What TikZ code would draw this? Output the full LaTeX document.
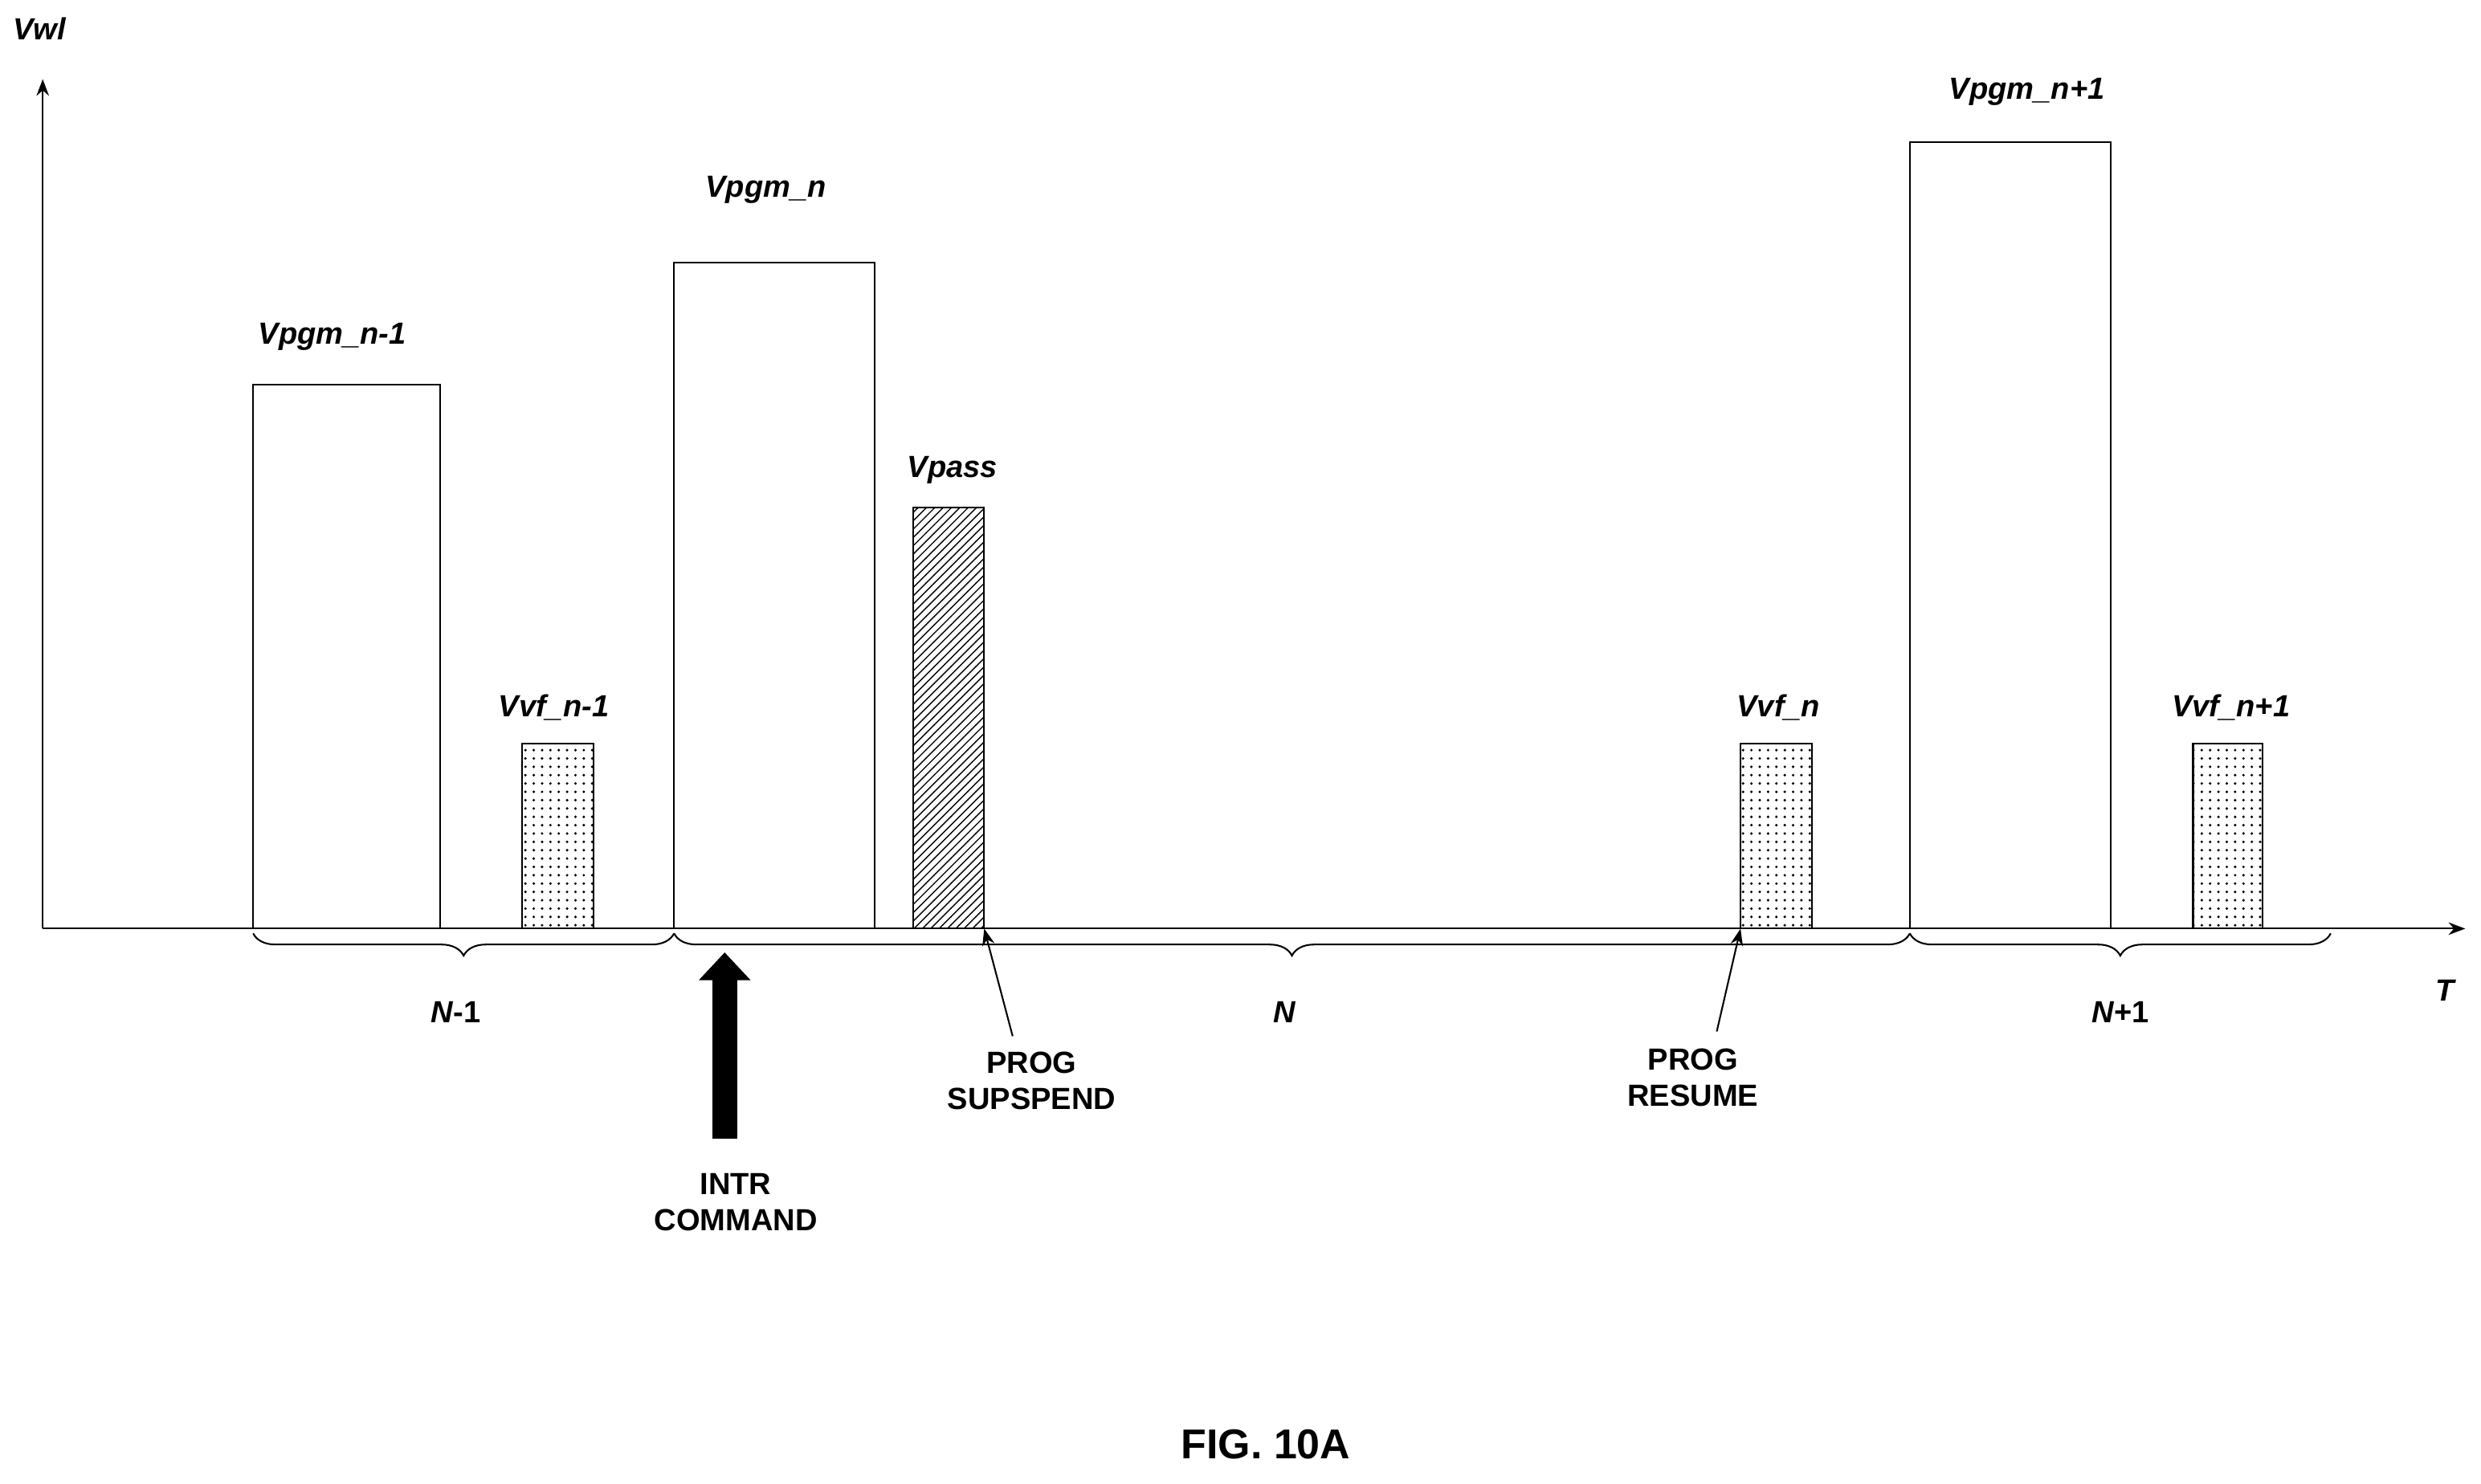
\documentclass[tikz,border=0pt]{standalone}
\usepackage{fontspec}
\setmainfont{Liberation Sans}
\usetikzlibrary{decorations.pathreplacing,patterns,arrows.meta}
\begin{document}
\begin{tikzpicture}[x=0.02cm,y=-0.02cm,
  lbl/.style={font=\fontsize{11}{13}\selectfont\bfseries\itshape},
  captxt/.style={font=\fontsize{11}{13}\selectfont\bfseries,align=center},
  bar/.style={draw,line width=0.6pt,fill=white},
  dotbar/.style={draw,line width=0.6pt,pattern=dots},
  hatchbar/.style={draw,line width=0.6pt,pattern=north east lines},
  br/.style={decorate,decoration={brace,mirror,amplitude=8pt},line width=0.6pt},
  thinarr/.style={-{Stealth[length=6pt]},line width=0.6pt}]
\useasboundingbox (0,0) rectangle (1568,938);
\coordinate (o) at (27,587);
\coordinate (ytop) at (27,50);
\coordinate (xend) at (1558,587);
\draw[-{Stealth[length=6pt]},line width=0.6pt] (o) -- (ytop);
\draw[-{Stealth[length=6pt]},line width=0.6pt] (o) -- (xend);
\node[lbl] (vwl) at (25,18) {Vwl};
\node[lbl] (t) at (1545,626) {T};
\draw[bar] (160,243) rectangle (278,587);
\node[lbl] at (210,213) {Vpgm\_n-1};
\draw[dotbar] (330,470) rectangle (375,587);
\node[lbl] at (350,447) {Vvf\_n-1};
\draw[bar] (426,166) rectangle (553,587);
\node[lbl] at (484,120) {Vpgm\_n};
\draw[hatchbar] (577,321) rectangle (622,587);
\node[lbl] at (602,297) {Vpass};
\coordinate (ds) at (622,587);
\coordinate (de) at (1100,587);
\draw[line width=0.6pt,dash pattern=on 6pt off 4pt] (ds) -- (de);
\draw[dotbar] (1100,470) rectangle (1145,587);
\node[lbl] at (1124,447) {Vvf\_n};
\draw[bar] (1207,90) rectangle (1334,587);
\node[lbl] at (1281,58) {Vpgm\_n+1};
\draw[dotbar] (1386,470) rectangle (1430,587);
\node[lbl] at (1410,447) {Vvf\_n+1};
\draw[br] (160,590) -- (426,590);
\draw[br] (426,590) -- (1207,590);
\draw[br] (1207,590) -- (1473,590);
\node[captxt] at (288,640) {\textit{N}-1};
\node[captxt] at (812,640) {\textit{N}};
\node[captxt] at (1340,640) {\textit{N}+1};
\coordinate (ia) at (458,720);
\coordinate (ib) at (458,602);
\draw[-{Triangle[length=10pt,width=18pt]},line width=9pt] (ia) -- (ib);
\node[captxt] (intr) at (465,760) {INTR\\COMMAND};
\node[captxt] (sus) at (652,683) {PROG\\SUPSPEND};
\draw[thinarr] (640,655) -- (ds);
\node[captxt] (res) at (1070,681) {PROG\\RESUME};
\draw[thinarr] (1085,652) -- (de);
\node[font=\fontsize{15}{18}\selectfont\bfseries] at (800,913) {FIG. 10A};
\end{tikzpicture}
\end{document}
